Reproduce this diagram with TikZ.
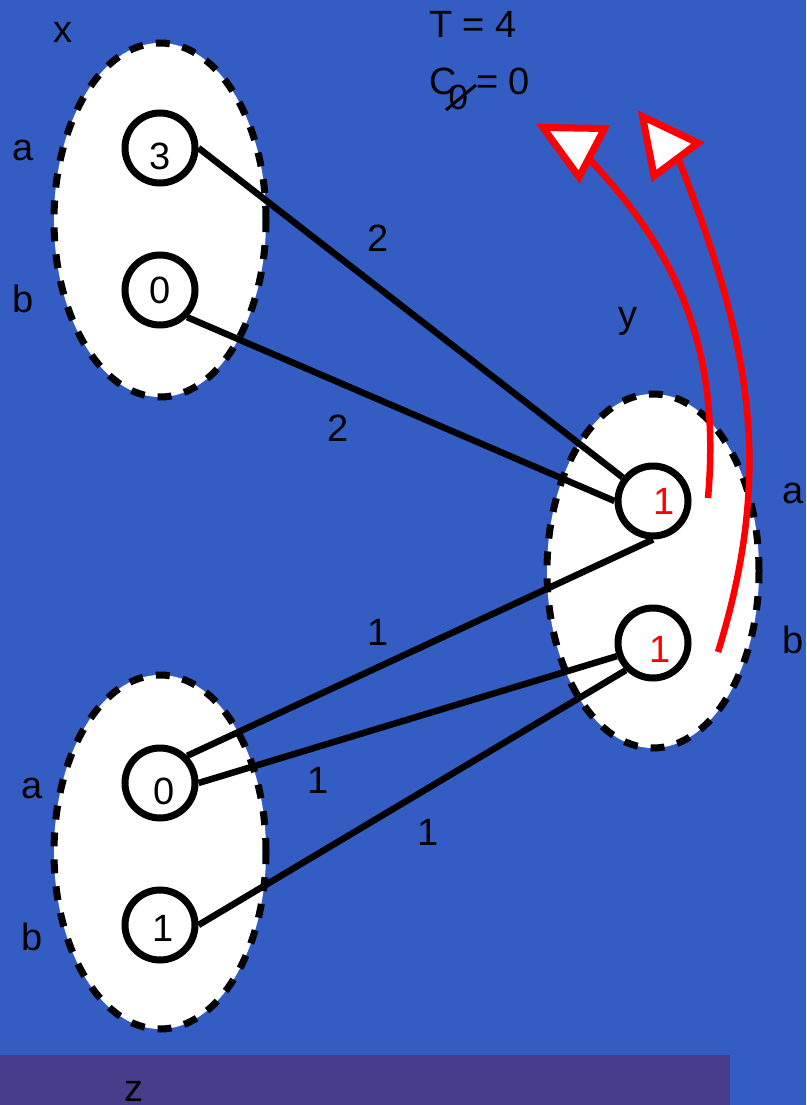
\documentclass[tikz,border=0pt]{standalone}
\usepackage{fontspec}
\setmainfont{Liberation Sans}
\usetikzlibrary{shapes.geometric}
\definecolor{fondo}{HTML}{345DC4}
\definecolor{franja}{HTML}{483D8B}

\begin{document}
\begin{tikzpicture}[x=1pt,y=-1pt,
   conjunto/.style={ellipse,draw=black,fill=white,line width=7pt,dash pattern=on 14pt off 13pt,minimum width=212pt,minimum height=354pt,inner sep=0pt},
   vertice/.style={circle,draw=black,fill=white,line width=7pt,minimum size=70pt,inner sep=0pt,text height=27pt,text depth=0pt,font=\fontsize{38}{44}\selectfont},
   arista/.style={black,line width=6.5pt},
   etiqueta/.style={anchor=base,inner sep=0pt,font=\fontsize{38}{44}\selectfont},
   peso/.style={inner sep=0pt,font=\fontsize{38}{44}\selectfont},
   flecha/.style={red,line width=6.5pt},
   punta/.style={draw=red,fill=white,line width=7pt,line join=miter}]
  % fondo y franja inferior
  \fill[fondo] (0,0) rectangle (806,1105);
  \fill[franja] (0,1055) rectangle (730,1105);
  \useasboundingbox (0,0) rectangle (806,1105);
  % --- conjuntos ---
  \node[conjunto] (X) at (160,220) {};
  \node[conjunto] (Y) at (653,571) {};
  \node[conjunto] (Z) at (160,852) {};
  % --- vertices ---
  \node[vertice,text height=43pt] (xa) at (160,148) {3};
  \node[vertice] (xb) at (160,290) {0};
  \node[vertice,text=red] (ya) at (653,501) {\hspace*{22pt}1};
  \node[vertice,text=red,text height=39pt] (yb) at (653,643) {\hspace*{14pt}1};
  \node[vertice,text height=43pt] (za) at (160,783) {\hspace*{8pt}0};
  \node[vertice,text height=33pt] (zb) at (160,925) {\hspace*{6pt}1};
  % --- aristas ---
  \draw[arista] (xa.east) -- (ya);
  \draw[arista] (xb.south east) -- (ya.west);
  \draw[arista] (ya.south) -- (za.north east);
  \draw[arista] (za.east) -- (yb.200);
  \draw[arista] (zb.east) -- (yb.south west);
  % --- pesos ---
  \node[peso] (p1) at (378,238) {2};
  \node[peso] (p2) at (338,428) {2};
  \node[peso] (p3) at (378,632) {1};
  \node[peso] (p4) at (318,780) {1};
  \node[peso] (p5) at (428,832) {1};
  % --- nombres ---
  \node[etiqueta] (nx)  at (63,43)   {x};
  \node[etiqueta] (nxa) at (23,160)  {a};
  \node[etiqueta] (nxb) at (23,312)  {b};
  \node[etiqueta] (ny)  at (628,327) {y};
  \node[etiqueta] (nya) at (793,503) {a};
  \node[etiqueta] (nyb) at (793,653) {b};
  \node[etiqueta] (nza) at (32,798)  {a};
  \node[etiqueta] (nzb) at (32,950)  {b};
  \node[etiqueta] (nz)  at (134,1101) {z};
  \node[etiqueta,anchor=base west] (T) at (429,38) {T = 4};
  \node[etiqueta,anchor=base west] (C) at (429,95)
    {C\kern-8pt\raisebox{-15pt}{\fontsize{35}{40}\selectfont 0}\kern8pt= 0};
  \draw[line width=3pt] (446,110) -- (476,85);
  % --- flechas rojas ---
  \coordinate (r1s) at (708,498);
  \coordinate (r1e) at (590,160);
  \coordinate (r2s) at (718,652);
  \coordinate (r2e) at (678,158);
  \draw[flecha] (r1s) .. controls (720,360) and (685,260) .. (r1e);
  \draw[flecha] (r2s) .. controls (775,468) and (750,341) .. (r2e);
  \draw[punta] (543,127.5) -- (604.5,128.5) -- (579,177) -- cycle;
  \draw[punta] (642.5,116.5) -- (698,143) -- (654,176) -- cycle;
\end{tikzpicture}
\end{document}
